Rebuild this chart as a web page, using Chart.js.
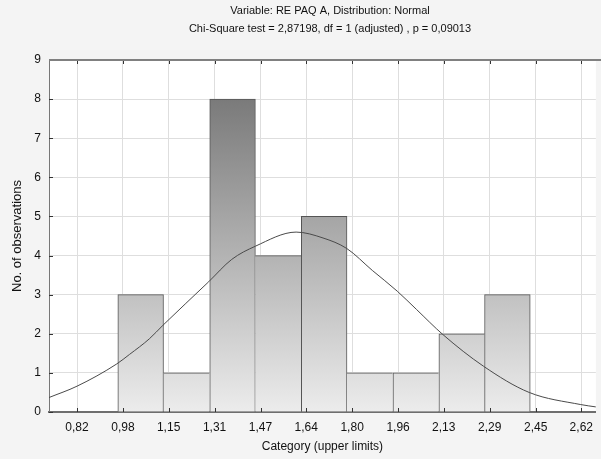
<!DOCTYPE html>
<html>
<head>
<meta charset="utf-8">
<script src="https://cdn.jsdelivr.net/npm/chart.js@4/dist/chart.umd.min.js"></script>
<style>
  html, body { margin: 0; padding: 0; background: #f4f4f4; }
  canvas { display: block; }
</style>
</head>
<body>
<canvas id="histChart" width="601" height="459"></canvas>
<script>
// histogram bins (upper limit of each bin) and counts
const binUpper = [1.127, 1.291, 1.455, 1.618, 1.782, 1.945, 2.109, 2.273, 2.436];
const counts = [3, 1, 8, 4, 5, 1, 1, 2, 3];
const binWidth = 0.1636;

// fitted normal curve
const curveX = [0.718, 0.818, 0.960, 1.005, 1.076, 1.125, 1.288, 1.370, 1.455, 1.600, 1.696, 1.781, 1.872, 1.961, 2.030, 2.124, 2.269, 2.432, 2.616, 2.670];
const curveY = [0.37, 0.66, 1.23, 1.47, 1.87, 2.22, 3.33, 3.90, 4.24, 4.60, 4.45, 4.18, 3.62, 3.09, 2.62, 1.98, 1.17, 0.50, 0.19, 0.13];

const xTicks = [0.818, 0.982, 1.145, 1.309, 1.473, 1.636, 1.800, 1.964, 2.127, 2.291, 2.455, 2.618];
const xTickLabels = ['0,82', '0,98', '1,15', '1,31', '1,47', '1,64', '1,80', '1,96', '2,13', '2,29', '2,45', '2,62'];

const titleLines = ['Variable: RE PAQ A, Distribution: Normal', 'Chi-Square test = 2,87198, df = 1 (adjusted) , p = 0,09013'];

document.addEventListener('DOMContentLoaded', () => {
    Chart.defaults.font.family = "'Liberation Sans', Arial, sans-serif";
    Chart.defaults.font.size = 12;
    Chart.defaults.color = '#111';

    const frame = {
        id: 'frame',
        beforeDraw(chart) {
            const { ctx, chartArea: a } = chart;
            ctx.save();
            ctx.fillStyle = '#f4f4f4';
            ctx.fillRect(0, 0, chart.width, chart.height);
            ctx.fillStyle = '#ffffff';
            ctx.fillRect(a.left, a.top, a.right - a.left, a.bottom - a.top);
            ctx.restore();
        },
        afterDatasetsDraw(chart) {
            const { ctx, chartArea: a, scales } = chart;
            ctx.save();
            ctx.strokeStyle = '#333';
            ctx.lineWidth = 1;
            ctx.beginPath();
            xTicks.forEach(v => {
                const px = Math.round(scales.x.getPixelForValue(v)) + 0.5;
                ctx.moveTo(px, a.bottom - 4); ctx.lineTo(px, a.bottom);
                ctx.moveTo(px, a.top); ctx.lineTo(px, a.top + 4);
            });
            for (let v = 0; v <= 9; v++) {
                const py = Math.round(scales.y.getPixelForValue(v)) + 0.5;
                ctx.moveTo(a.left, py); ctx.lineTo(a.left + 4, py);
            }
            ctx.stroke();
            // top frame line
            ctx.strokeStyle = '#808080';
            ctx.lineWidth = 2;
            ctx.beginPath();
            ctx.moveTo(a.left, a.top);
            ctx.lineTo(chart.width, a.top);
            ctx.stroke();
            // title
            ctx.fillStyle = '#111';
            ctx.font = "11px 'Liberation Sans', Arial, sans-serif";
            ctx.textAlign = 'center';
            ctx.textBaseline = 'middle';
            ctx.fillText(titleLines[0], 330, 11);
            ctx.fillText(titleLines[1], 330, 29);
            ctx.restore();
        }
    };

    const barFill = (context) => {
        const a = context.chart.chartArea;
        if (!a) return '#cccccc';
        const g = context.chart.ctx.createLinearGradient(0, a.bottom, 0, a.top);
        g.addColorStop(0, '#ececec');
        g.addColorStop(1, '#6c6c6c');
        return g;
    };

    // avoid doubled borders where bars touch
    const barBorder = (context) => {
        const i = context.dataIndex;
        const cur = counts[i];
        const prev = counts[i - 1];
        const next = counts[i + 1];
        return {
            top: 1,
            bottom: 0,
            left: (prev === undefined || prev <= cur) ? 1 : 0,
            right: (next === undefined || next < cur) ? 1 : 0
        };
    };

    new Chart(document.getElementById('histChart'), {
        type: 'bar',
        data: {
            datasets: [
                {
                    type: 'line',
                    label: 'Normal',
                    data: curveX.map((x, i) => ({ x, y: curveY[i] })),
                    borderColor: '#4a4a4a',
                    borderWidth: 1,
                    pointRadius: 0,
                    cubicInterpolationMode: 'monotone',
                    fill: false,
                    order: 1
                },
                {
                    type: 'bar',
                    label: 'No. of observations',
                    data: binUpper.map((u, i) => ({ x: u - binWidth / 2, y: counts[i] })),
                    backgroundColor: barFill,
                    borderColor: '#555555',
                    borderWidth: barBorder,
                    borderSkipped: false,
                    barPercentage: 1,
                    categoryPercentage: 1,
                    order: 2
                }
            ]
        },
        options: {
            responsive: false,
            animation: false,
            layout: { padding: { top: 60, right: 1, left: 0, bottom: 0 } },
            plugins: {
                legend: { display: false },
                tooltip: { enabled: false },
                title: { display: false }
            },
            scales: {
                x: {
                    type: 'linear',
                    min: 0.718,
                    max: 2.670,
                    offset: false,
                    afterBuildTicks: (scale) => {
                        scale.ticks = xTicks.map(v => ({ value: v }));
                    },
                    afterFit: (scale) => { scale.height = 47; },
                    ticks: {
                        autoSkip: false,
                        maxRotation: 0,
                        padding: 8,
                        color: '#111',
                        callback: (value, index) => xTickLabels[index]
                    },
                    grid: { color: '#dedede', offset: false, drawTicks: false },
                    border: { color: '#6e6e6e', width: 2 },
                    title: {
                        display: true,
                        text: 'Category (upper limits)',
                        color: '#111',
                        padding: { top: 0, bottom: 5 }
                    }
                },
                y: {
                    min: 0,
                    max: 9,
                    afterFit: (scale) => { scale.width = 49; },
                    ticks: { stepSize: 1, padding: 8, color: '#111' },
                    grid: { color: '#dedede', drawTicks: false },
                    border: { color: '#777777', width: 1 },
                    title: {
                        display: true,
                        text: 'No. of observations',
                        color: '#111',
                        font: { size: 13 },
                        padding: { top: 10, bottom: 0 }
                    }
                }
            }
        },
        plugins: [frame]
    });
});
</script>
</body>
</html>
